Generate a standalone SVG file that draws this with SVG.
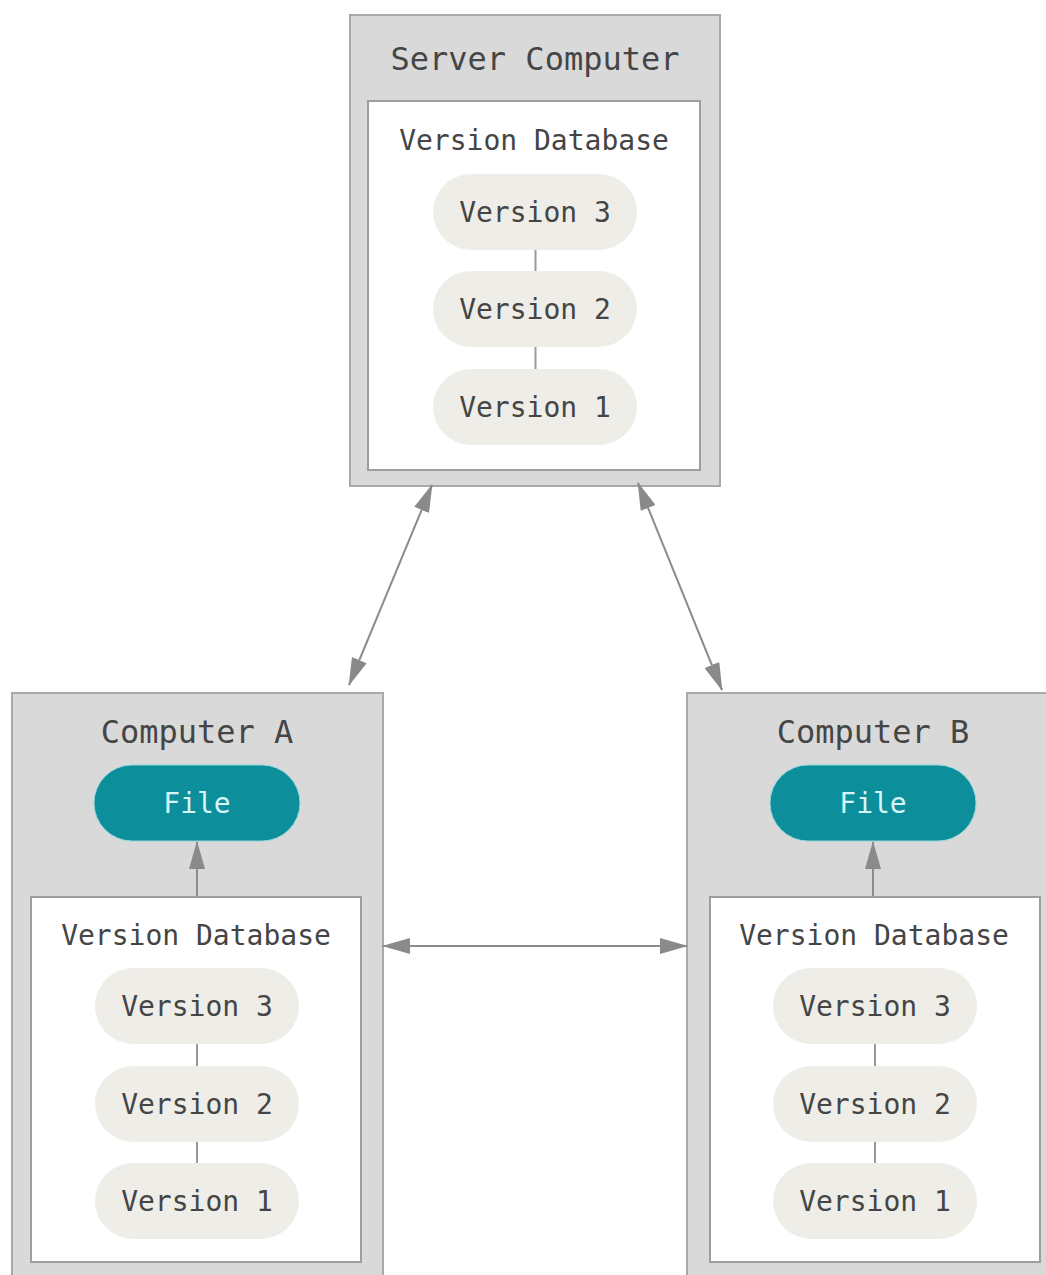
<svg xmlns="http://www.w3.org/2000/svg" width="1046" height="1275" viewBox="0 0 1046 1275">
<style>
.outer{fill:#d9d9d9;stroke:#a9a9a9;stroke-width:2}
.inner{fill:#ffffff;stroke:#9e9e9e;stroke-width:2}
.pill{fill:#eeede7}
.file{fill:#0c8e9b;stroke:#8fd6dd;stroke-width:1}
.t{font-family:"DejaVu Sans Mono","Liberation Mono",monospace;fill:#454545;text-anchor:middle}
.title{font-size:32px}
.lbl{font-size:28px}
.ft{font-size:28px;fill:#d6f5f6;font-family:"DejaVu Sans Mono","Liberation Mono",monospace;text-anchor:middle}
.link{stroke:#9a9a9a;stroke-width:2}
.arr{stroke:#8c8c8c;stroke-width:2;fill:none;marker-end:url(#ah);marker-start:url(#ah)}
.arr1{stroke:#8c8c8c;stroke-width:2;fill:none;marker-end:url(#ah)}
</style>
<defs>
<marker id="ah" markerUnits="userSpaceOnUse" markerWidth="28" markerHeight="16" refX="27" refY="8" orient="auto-start-reverse">
<path d="M0,0 L28,8 L0,16 z" fill="#8a8a8a"/>
</marker>
</defs>
<rect width="1046" height="1275" fill="#ffffff"/>

<g id="server">
<rect class="outer" x="350" y="15" width="370" height="471"/>
<text class="t title" x="535" y="70">Server Computer</text>
<rect class="inner" x="368" y="101" width="332" height="369"/>
<text class="t lbl" x="534" y="150">Version Database</text>
<line class="link" x1="535.5" y1="250" x2="535.5" y2="271"/>
<line class="link" x1="535.5" y1="347" x2="535.5" y2="369"/>
<rect class="pill" x="433" y="174" width="204" height="76" rx="38"/>
<text class="t lbl" x="535" y="222">Version 3</text>
<rect class="pill" x="433" y="271" width="204" height="76" rx="38"/>
<text class="t lbl" x="535" y="319">Version 2</text>
<rect class="pill" x="433" y="369" width="204" height="76" rx="38"/>
<text class="t lbl" x="535" y="417">Version 1</text>
</g>

<g id="computerA">
<rect class="outer" x="12" y="693" width="371" height="600"/>
<text class="t title" x="197" y="743">Computer A</text>
<rect class="file" x="94" y="765" width="206" height="76" rx="38"/>
<text class="ft" x="197" y="813">File</text>
<rect class="inner" x="31" y="897" width="330" height="365"/>
<text class="t lbl" x="196" y="945">Version Database</text>
<line class="link" x1="197" y1="1044" x2="197" y2="1066"/>
<line class="link" x1="197" y1="1142" x2="197" y2="1163"/>
<rect class="pill" x="95" y="968" width="204" height="76" rx="38"/>
<text class="t lbl" x="197" y="1016">Version 3</text>
<rect class="pill" x="95" y="1066" width="204" height="76" rx="38"/>
<text class="t lbl" x="197" y="1114">Version 2</text>
<rect class="pill" x="95" y="1163" width="204" height="76" rx="38"/>
<text class="t lbl" x="197" y="1211">Version 1</text>
</g>

<g id="computerB">
<rect class="outer" x="687" y="693" width="371" height="600"/>
<text class="t title" x="873" y="743">Computer B</text>
<rect class="file" x="770" y="765" width="206" height="76" rx="38"/>
<text class="ft" x="873" y="813">File</text>
<rect class="inner" x="710" y="897" width="330" height="365"/>
<text class="t lbl" x="874" y="945">Version Database</text>
<line class="link" x1="875" y1="1044" x2="875" y2="1066"/>
<line class="link" x1="875" y1="1142" x2="875" y2="1163"/>
<rect class="pill" x="773" y="968" width="204" height="76" rx="38"/>
<text class="t lbl" x="875" y="1016">Version 3</text>
<rect class="pill" x="773" y="1066" width="204" height="76" rx="38"/>
<text class="t lbl" x="875" y="1114">Version 2</text>
<rect class="pill" x="773" y="1163" width="204" height="76" rx="38"/>
<text class="t lbl" x="875" y="1211">Version 1</text>
</g>

<g id="connectors">
<line class="arr" x1="349" y1="685" x2="432" y2="485"/>
<line class="arr" x1="638" y1="483" x2="722" y2="690"/>
<line class="arr" x1="383" y1="946" x2="687" y2="946"/>
<line class="arr1" x1="197" y1="896" x2="197" y2="842"/>
<line class="arr1" x1="873" y1="896" x2="873" y2="842"/>
</g>
</svg>
